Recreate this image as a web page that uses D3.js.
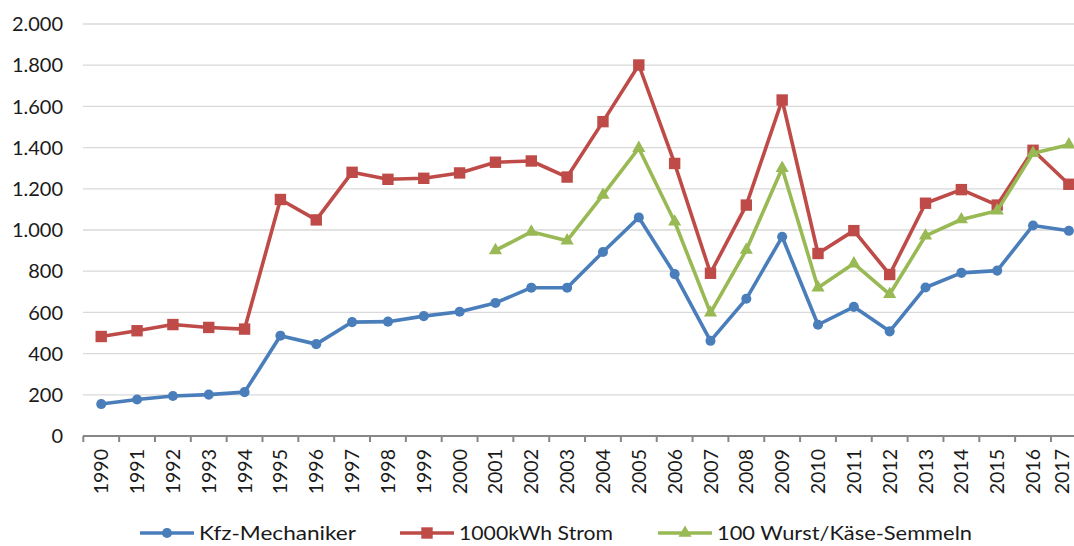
<!DOCTYPE html>
<html>
<head>
<meta charset="utf-8">
<script src="https://cdn.jsdelivr.net/npm/d3@7"></script>
<style>
  body { margin: 0; background: #fff; }
  svg text { font-family: "Century Gothic", Lato, "DejaVu Sans", sans-serif; fill: #1a1a1a; }
</style>
</head>
<body>
<svg id="chart" width="1074" height="546"></svg>
<script>
// years on the x axis
const years = ["1990","1991","1992","1993","1994","1995","1996","1997","1998","1999","2000",
  "2001","2002","2003","2004","2005","2006","2007","2008","2009","2010","2011","2012","2013",
  "2014","2015","2016","2017"];

// Kfz-Mechaniker
const kfz = [155, 177, 194, 201, 213, 487, 446, 553, 555, 582, 603, 646, 720, 720, 893, 1061,
  786, 462, 666, 967, 540, 627, 508, 721, 792, 803, 1022, 996];
// 1000kWh Strom
const strom = [483, 511, 541, 527, 519, 1148, 1049, 1280, 1246, 1251, 1277, 1329, 1335, 1257,
  1526, 1801, 1323, 790, 1121, 1631, 886, 997, 784, 1130, 1196, 1121, 1387, 1222];
// 100 Wurst/Käse-Semmeln (from 2001)
const semmeln = [null, null, null, null, null, null, null, null, null, null, null,
  901, 991, 948, 1170, 1397, 1040, 598, 903, 1300, 720, 837, 688, 972, 1051, 1094, 1373, 1414];

const yTicks = [0, 200, 400, 600, 800, 1000, 1200, 1400, 1600, 1800, 2000];

const svg = d3.select("#chart");
const W = 1074;

const x = d3.scaleBand().domain(years).range([83.3, 1086.8]);
const y = d3.scaleLinear().domain([0, 2000]).range([436, 24]);
const cx = d => x(d) + x.bandwidth() / 2;

const fmt = v => v >= 1000 ? d3.format(",")(v).replace(",", ".") : String(v);

// gridlines
svg.append("g").selectAll("line")
  .data(yTicks.filter(t => t > 0))
  .enter().append("line")
  .attr("x1", 83).attr("x2", W)
  .attr("y1", d => y(d)).attr("y2", d => y(d))
  .attr("stroke", "#d9d9d9").attr("stroke-width", 1.3);

// y labels
svg.append("g").selectAll("text")
  .data(yTicks)
  .enter().append("text")
  .attr("x", 63).attr("y", d => y(d))
  .attr("dy", "0.36em")
  .attr("text-anchor", "end")
  .style("font-size", "20px")
  .text(fmt);

// x axis
const gx = svg.append("g").attr("transform", "translate(0,436)");
gx.append("line").attr("x1", 83).attr("x2", W).attr("y1", 0).attr("y2", 0)
  .attr("stroke", "#868686").attr("stroke-width", 2);
gx.selectAll(".tk").data(years).enter().append("line")
  .attr("x1", d => x(d)).attr("x2", d => x(d))
  .attr("y1", 0).attr("y2", 6)
  .attr("stroke", "#868686").attr("stroke-width", 2);
gx.selectAll(".lbl").data(years).enter().append("text")
  .attr("transform", d => `translate(${Math.min(cx(d), W - 12)},13) rotate(-90)`) // keep last label inside
  .attr("text-anchor", "end")
  .attr("dy", "0.36em")
  .style("font-size", "19.5px")
  .text(d => d);

const series = [
  { name: "Kfz-Mechaniker", values: kfz, color: "#4a7ebb", marker: "circle" },
  { name: "1000kWh Strom", values: strom, color: "#be4b48", marker: "square" },
  { name: "100 Wurst/Käse-Semmeln", values: semmeln, color: "#98b954", marker: "triangle" }
];

const symbolFor = m => m === "circle" ? d3.symbol(d3.symbolCircle, 80)
  : m === "square" ? d3.symbol(d3.symbolSquare, 130)
  : d3.symbol(d3.symbolTriangle, 75);

const line = d3.line()
  .defined(d => d.v != null)
  .x(d => cx(d.year))
  .y(d => y(d.v));

series.forEach(s => {
  const pts = years.map((yr, i) => ({ year: yr, v: s.values[i] }));
  svg.append("path")
    .datum(pts)
    .attr("fill", "none")
    .attr("stroke", s.color)
    .attr("stroke-width", 3.6)
    .attr("stroke-linejoin", "round")
    .attr("d", line);
  svg.append("g").selectAll("path")
    .data(pts.filter(p => p.v != null))
    .enter().append("path")
    .attr("d", symbolFor(s.marker))
    .attr("transform", p => `translate(${cx(p.year)},${y(p.v)})`)
    .attr("fill", s.color);
});

// legend
const legendX = [140, 400, 658];
const legendW = [157, 154, 255];
const leg = svg.append("g").attr("transform", "translate(0,533)");
series.forEach((s, i) => {
  const g = leg.append("g").attr("transform", `translate(${legendX[i]},0)`);
  g.append("line").attr("x1", 0).attr("x2", 54).attr("y1", 0).attr("y2", 0)
    .attr("stroke", s.color).attr("stroke-width", 3.6);
  g.append("path").attr("d", symbolFor(s.marker)).attr("transform", "translate(27,0)").attr("fill", s.color);
  g.append("text").attr("x", 59).attr("dy", "0.36em")
    .style("font-size", "20px")
    .attr("textLength", legendW[i])
    .attr("lengthAdjust", "spacingAndGlyphs")
    .text(s.name);
});
</script>
</body>
</html>
